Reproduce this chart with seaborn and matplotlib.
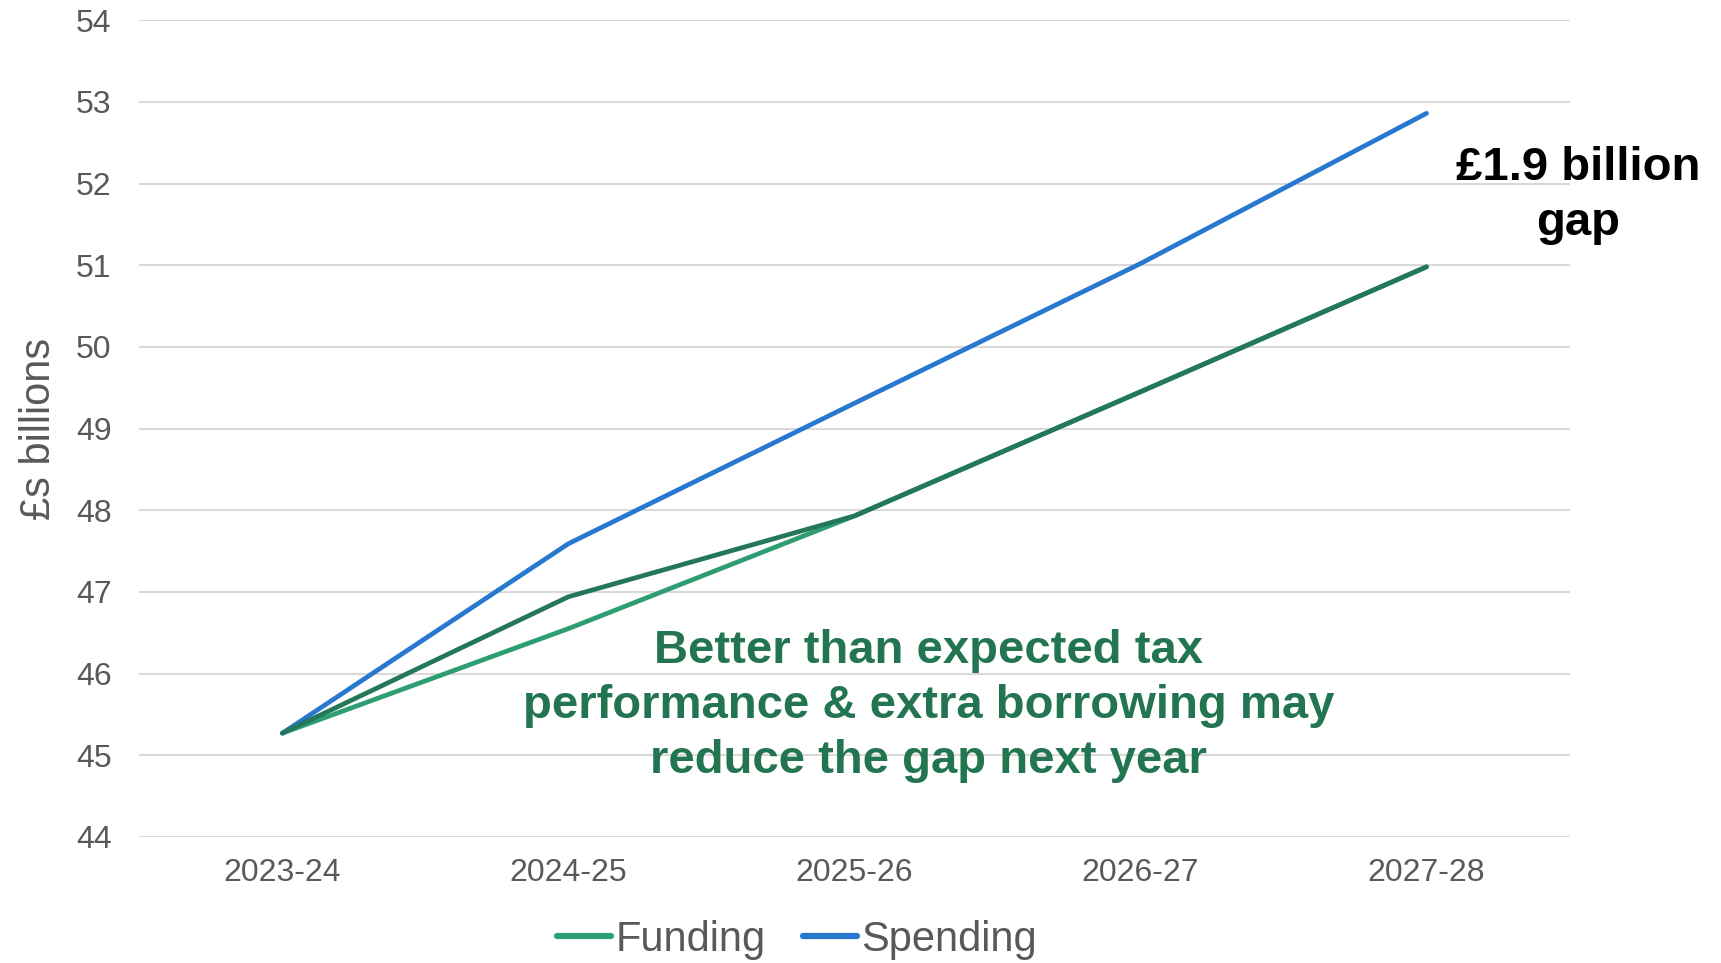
import pandas as pd
import seaborn as sns
import matplotlib.pyplot as plt

# Values (£ billions)
years = ['2023-24', '2024-25', '2025-26', '2026-27', '2027-28']
funding = [45.27, 46.55, 47.93, 49.45, 50.98]
spending = [45.27, 47.59, 49.31, 51.02, 52.86]
revised_funding = [45.27, 46.94, 47.93, 49.45, 50.98]

yticks = list(range(44, 55))

df = pd.DataFrame({
    'Year': years * 2,
    'Value': funding + spending,
    'Series': ['Funding'] * 5 + ['Spending'] * 5,
})
df_rev = pd.DataFrame({'Year': years, 'Value': revised_funding})

sns.set_style("white")
plt.rcParams['font.family'] = ['Liberation Sans', 'DejaVu Sans']

fig = plt.figure(figsize=(17.21, 9.63), dpi=100)
ax = fig.add_axes([0.081, 0.131, 0.831, 0.848])

sns.lineplot(data=df, x='Year', y='Value', hue='Series',
             palette={'Funding': '#2e9e72', 'Spending': '#2878cf'},
             linewidth=3.4, ax=ax, sort=False)
sns.lineplot(data=df_rev, x='Year', y='Value', color='#25775a',
             linewidth=3.4, ax=ax, sort=False, legend=False)

ax.set_xlim(-0.5, len(years) - 0.5)
ax.set_ylim(44, 54)
ax.set_yticks(yticks)
ax.grid(axis='y', color='#d9d9d9', linewidth=1.5)
ax.set_axisbelow(True)
for s in ax.spines.values():
    s.set_visible(False)
ax.tick_params(axis='both', length=0, labelsize=23, colors='#595959')
ax.tick_params(axis='y', pad=20)
ax.tick_params(axis='x', pad=15)
ax.set_xlabel('')
ax.set_ylabel('£s billions', fontsize=30, color='#595959', labelpad=12)

ax.text(2.26, 45.6, 'Better than expected tax\nperformance & extra borrowing may\nreduce the gap next year',
        ha='center', va='center', fontsize=34, fontweight='bold',
        color='#237552', linespacing=1.33)
ax.text(4.53, 51.85, '£1.9 billion\ngap', ha='center', va='center',
        fontsize=34, fontweight='bold', color='black', linespacing=1.32,
        clip_on=False)

handles, labels = ax.get_legend_handles_labels()
ax.legend(handles[:2], labels[:2], loc='center', bbox_to_anchor=(0.463, 0.024),
          bbox_transform=fig.transFigure, ncol=2, frameon=False,
          fontsize=30, handlelength=1.3, handletextpad=0.1, columnspacing=0.9,
          labelcolor='#595959')
for line in ax.get_legend().get_lines():
    line.set_linewidth(4.5)
    line.set_solid_capstyle('round')

plt.savefig('out.png', dpi=100)
plt.close()
